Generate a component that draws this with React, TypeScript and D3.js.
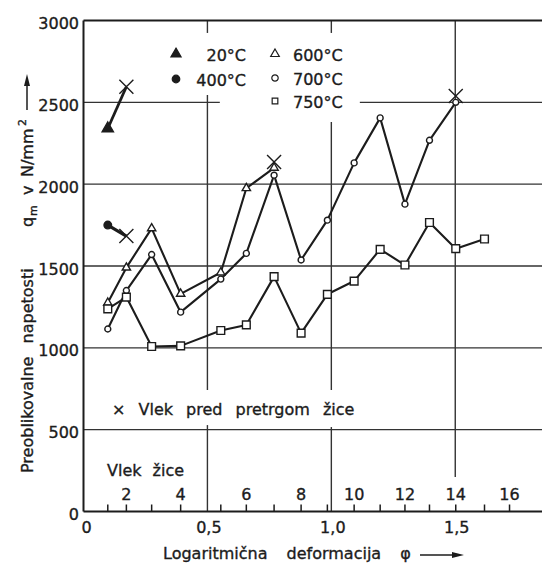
import React, { useEffect, useRef } from "react";
import * as d3 from "d3";

// pass number (1..16) -> logarithmic deformation
const passPhi = [0.098, 0.173, 0.275, 0.392, 0.554, 0.657, 0.769, 0.878, 0.984, 1.092, 1.197, 1.297, 1.396, 1.502, 1.618, 1.719];
const passLabels = [2, 4, 6, 8, 10, 12, 14, 16];
const phiTicks = [0, 0.5, 1.0, 1.5];
const stressTicks = [0, 500, 1000, 1500, 2000, 2500, 3000];

// flow stress q_m [N/mm2] per pass, every series starts at pass 1
const values20 = [2340, 2595];
const values400 = [1750, 1683];
const values600 = [1275, 1490, 1730, 1330, 1460, 1975, 2100];
const values700 = [1115, 1350, 1570, 1218, 1420, 1577, 2055, 1537, 1780, 2130, 2405, 1878, 2268, 2500];
const values750 = [1238, 1310, 1008, 1012, 1106, 1140, 1435, 1090, 1327, 1408, 1602, 1506, 1766, 1606, 1665];

// "x" = pass before the wire broke
const breakPass = [2, 2, 7, 14];
const breakValue = [2595, 1683, 2136, 2538];

const FONT = "DejaVu Sans";
const INK = "#1c1c1c";

const App = () => {
  const ref = useRef<SVGSVGElement>(null);

  useEffect(() => {
    draw();
  });

  const draw = () => {
    const width = 542;
    const height = 564;
    const svg = d3.select(ref.current);
    svg.selectAll("*").remove();
    svg.attr("width", width).attr("height", height);

    const x = d3.scaleLinear().domain([0, 1.85]).range([83.5, 542]);
    const y = d3.scaleLinear().domain([0, 3000]).range([511.5, 20.5]);
    const px = (pass: number) => x(passPhi[pass - 1]);

    svg.append("rect").attr("width", width).attr("height", height).attr("fill", "#fff");

    // grid, with the gaps the drawing leaves round its texts
    const hGrid: [number, number, number][] = [
      [500, 0, 1.85],
      [1000, 0, 1.85],
      [1500, 0, 1.85],
      [2000, 0, 1.85],
      [2500, 0, 0.55],
      [2500, 1.115, 1.85],
    ];
    const vGrid: [number, number, number][] = [
      [0.5, 2924, 3000],
      [0.5, 742, 2545],
      [0.5, 0, 528],
      [1.0, 2924, 3000],
      [1.0, 742, 2380],
      [1.0, 0, 516],
      [1.5, 211, 3000],
    ];
    const grid = svg.append("g").attr("stroke", "#333").attr("stroke-width", 1.4);
    hGrid.forEach(([v, a, b]) => {
      grid.append("line").attr("x1", x(a)).attr("x2", x(b)).attr("y1", y(v)).attr("y2", y(v));
    });
    vGrid.forEach(([v, a, b]) => {
      grid.append("line").attr("x1", x(v)).attr("x2", x(v)).attr("y1", y(a)).attr("y2", y(b));
    });

    // frame
    const frame = svg.append("g").attr("stroke", INK).attr("stroke-width", 2);
    frame.append("line").attr("x1", x(0)).attr("x2", x(0)).attr("y1", y(3000)).attr("y2", y(0));
    frame.append("line").attr("x1", x(0)).attr("x2", width).attr("y1", y(0)).attr("y2", y(0));
    frame.append("line").attr("x1", x(0)).attr("x2", width).attr("y1", y(3000)).attr("y2", y(3000));

    // pass ticks
    passPhi.forEach((p) => {
      frame
        .append("line")
        .attr("stroke-width", 1.5)
        .attr("x1", x(p))
        .attr("x2", x(p))
        .attr("y1", y(0))
        .attr("y2", y(0) - 7);
    });

    // scanned lettering is a bit heavy, a thin stroke thickens the glyphs
    const text = svg
      .append("g")
      .attr("font-family", FONT)
      .attr("font-size", 16)
      .attr("fill", INK)
      .attr("stroke", INK)
      .attr("stroke-width", 0.35);

    stressTicks.forEach((t) => {
      text.append("text").attr("x", 79).attr("y", y(t) + 8.5).attr("text-anchor", "end").text(t);
    });
    phiTicks.forEach((t) => {
      text
        .append("text")
        .attr("x", x(t) + (t === 0 ? 3 : 1.5))
        .attr("y", 533)
        .attr("text-anchor", "middle")
        .text(t === 0 ? "0" : t.toFixed(1).replace(".", ","));
    });
    passLabels.forEach((p) => {
      text.append("text").attr("x", px(p)).attr("y", 500).attr("text-anchor", "middle").text(p);
    });
    text.append("text").attr("x", 107).attr("y", 476).attr("word-spacing", 6).text("Vlek žice");
    text.append("text").attr("x", 112).attr("y", 415).attr("word-spacing", 8).text("× Vlek pred pretrgom žice");

    // axis titles
    text
      .append("text")
      .attr("x", 163)
      .attr("y", 559)
      .attr("word-spacing", 14)
      .text("Logaritmična deformacija φ");
    const arrow = (g: any, x1: number, x2: number, yy: number) => {
      g.append("line").attr("x1", x1).attr("x2", x2 - 8).attr("y1", yy).attr("y2", yy).attr("stroke", INK).attr("stroke-width", 1.5);
      g.append("path").attr("d", `M${x2},${yy} L${x2 - 12},${yy - 3} L${x2 - 12},${yy + 3} Z`).attr("fill", INK);
    };
    arrow(svg, 420, 464, 555);

    const yTitle = svg.append("g").attr("transform", "translate(33,473) rotate(-90)");
    const yt = yTitle
      .append("g")
      .attr("font-family", FONT)
      .attr("font-size", 16)
      .attr("fill", INK)
      .attr("stroke", INK)
      .attr("stroke-width", 0.35);
    yt.append("text").attr("x", 0).attr("y", 0).attr("word-spacing", 8).text("Preoblikovalne napetosti");
    yt.append("text").attr("x", 246).attr("y", 0).text("q");
    yt.append("text").attr("x", 257).attr("y", 4).attr("font-size", 11).text("m");
    yt.append("text").attr("x", 278).attr("y", 0).text("v");
    yt.append("text").attr("x", 296).attr("y", 0).text("N/mm");
    yt.append("text").attr("x", 347).attr("y", -7).attr("font-size", 11).text("2");
    arrow(yTitle, 363, 399, -6);

    // series
    const series = [
      { values: values20, symbol: d3.symbolTriangle, filled: true, size: 55, width: 2.8, toBreak: true },
      { values: values400, symbol: d3.symbolCircle, filled: true, size: 45, width: 3.2, toBreak: true },
      { values: values600, symbol: d3.symbolTriangle, filled: false, size: 30, width: 2.1, toBreak: false },
      { values: values700, symbol: d3.symbolCircle, filled: false, size: 28, width: 2.1, toBreak: false },
      { values: values750, symbol: d3.symbolSquare, filled: false, size: 60, width: 2.1, toBreak: false },
    ];

    const line = d3
      .line<number>()
      .x((_d, i) => px(i + 1))
      .y((d) => y(d));

    series.forEach((s) => {
      svg
        .append("path")
        .datum(s.values)
        .attr("fill", "none")
        .attr("stroke", INK)
        .attr("stroke-width", s.width)
        .attr("stroke-linejoin", "round")
        .attr("d", line);
    });
    series.forEach((s) => {
      const pts = s.toBreak ? s.values.slice(0, -1) : s.values;
      svg
        .append("g")
        .selectAll("path")
        .data(pts)
        .join("path")
        .attr("transform", (d, i) => `translate(${px(i + 1)},${y(d)})`)
        .attr("d", d3.symbol(s.symbol, s.size)())
        .attr("fill", s.filled ? INK : "#fff")
        .attr("stroke", INK)
        .attr("stroke-width", 1.4);
    });

    // wire break marks
    breakPass.forEach((p, i) => {
      const cx = px(p);
      const cy = y(breakValue[i]);
      const r = 7;
      svg
        .append("path")
        .attr("d", `M${cx - r},${cy - r} L${cx + r},${cy + r} M${cx + r},${cy - r} L${cx - r},${cy + r}`)
        .attr("stroke", INK)
        .attr("stroke-width", 1.4);
    });

    // legend
    const legend = [
      { label: "20°C", symbol: d3.symbolTriangle, filled: true, lx: 176, ly: 54, tx: 246, ty: 61, anchor: "end" },
      { label: "400°C", symbol: d3.symbolCircle, filled: true, lx: 176, ly: 79, tx: 246, ty: 86, anchor: "end" },
      { label: "600°C", symbol: d3.symbolTriangle, filled: false, lx: 275, ly: 54, tx: 293, ty: 61, anchor: "start" },
      { label: "700°C", symbol: d3.symbolCircle, filled: false, lx: 275, ly: 78, tx: 293, ty: 85, anchor: "start" },
      { label: "750°C", symbol: d3.symbolSquare, filled: false, lx: 275, ly: 101, tx: 293, ty: 108, anchor: "start" },
    ];
    legend.forEach((l) => {
      svg
        .append("path")
        .attr("transform", `translate(${l.lx},${l.ly})`)
        .attr("d", d3.symbol(l.symbol, l.filled ? 45 : 32)())
        .attr("fill", l.filled ? INK : "#fff")
        .attr("stroke", INK)
        .attr("stroke-width", 1.2);
      text.append("text").attr("x", l.tx).attr("y", l.ty).attr("text-anchor", l.anchor).text(l.label);
    });
  };

  return <svg ref={ref} style={{ position: "absolute", left: 0, top: 0 }} />;
};

export default App;
